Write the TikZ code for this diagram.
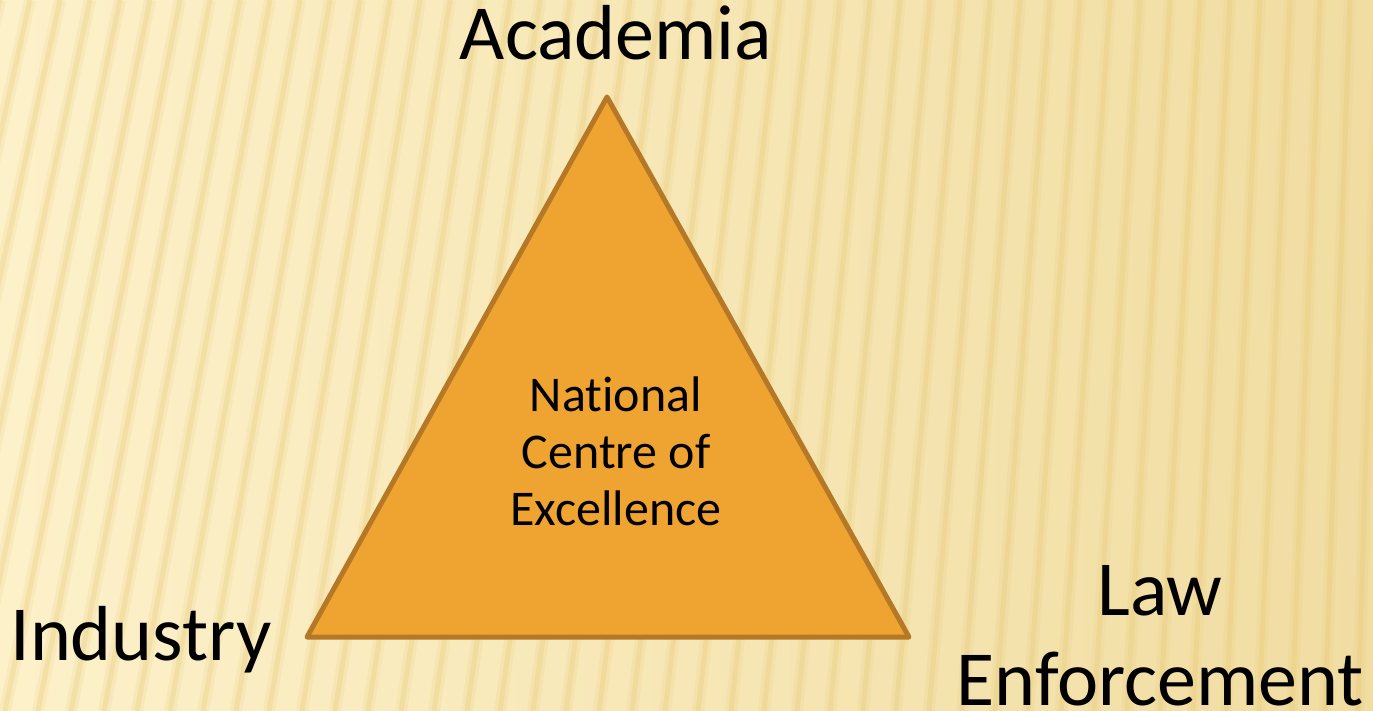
\documentclass[tikz,border=0pt]{standalone}
\usepackage{fontspec}
\setmainfont{Carlito}[Ligatures=NoCommon]
\definecolor{bgL}{HTML}{FDF1CA}
\definecolor{bgR}{HTML}{F1DDA2}
\definecolor{stripe}{HTML}{E6C66E}
\definecolor{trifill}{HTML}{EFA431}
\definecolor{tridraw}{HTML}{B47826}
\tikzset{
  bigtxt/.style={font=\fontsize{78}{90}\selectfont, text=black, align=center, inner sep=0pt},
  midtxt/.style={font=\fontsize{50}{57}\selectfont, text=black, align=center, inner sep=0pt},
  tri/.style={fill=trifill, draw=tridraw, line width=5pt, line join=round}
}
\begin{document}
\begin{tikzpicture}[x=1pt,y=-1pt]
\useasboundingbox (0,0) rectangle (1373,711);
\shade[left color=bgL, right color=bgR] (0,0) rectangle (1373,711);
\begin{scope}
\clip (0,0) rectangle (1373,711);
\foreach \i in {-2,...,50}{
  \pgfmathsetmacro{\xt}{\i*30}
  \pgfmathsetmacro{\xb}{\xt-(160-0.1*\xt)}
  \draw[stripe, line width=12pt, opacity=0.15] (\xt,0) -- (\xb,711);
  \draw[stripe, line width=5pt, opacity=0.25] (\xt,0) -- (\xb,711);
}
\end{scope}
\coordinate (apex) at (607,97);
\coordinate (bl) at (307,637);
\coordinate (br) at (909,637);
\draw[tri] (apex) -- (bl) -- (br) -- cycle;
\node[midtxt, anchor=base] (center) at (616,525) {National\\Centre of\\Excellence};
\node[bigtxt, anchor=base] (academia) at (616,60) {Academia};
\node[bigtxt, anchor=base] (industry) at (141,660) {Industry};
\node[bigtxt, anchor=base] (law) at (1160,705) {Law\\Enforcement};
\end{tikzpicture}
\end{document}
